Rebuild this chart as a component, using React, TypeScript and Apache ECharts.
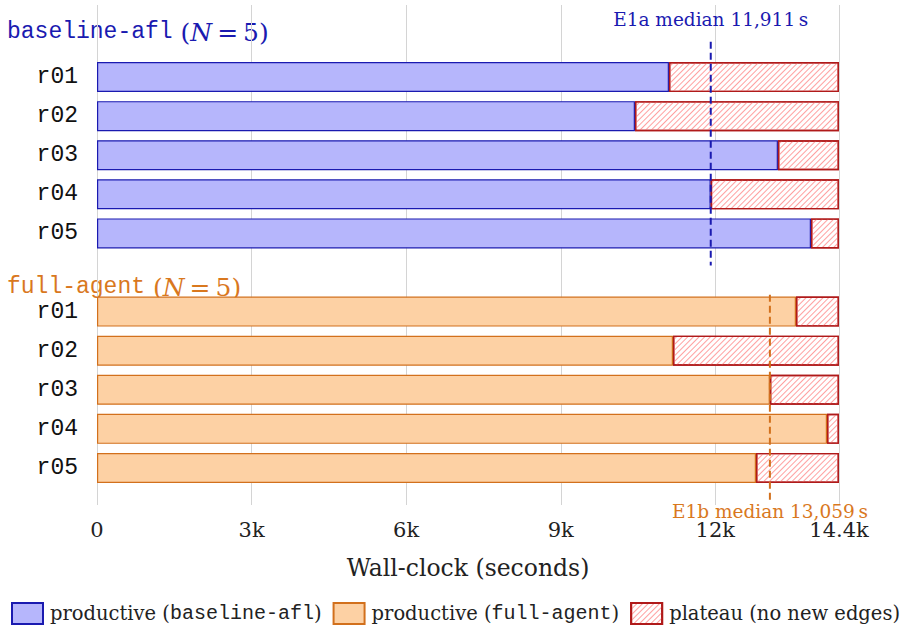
import React, { useEffect, useRef } from 'react';
import * as echarts from 'echarts';

const runs = ['r01', 'r02', 'r03', 'r04', 'r05'];
const baselineProductive = [11100, 10440, 13215, 11911, 13856];
const fullAgentProductive = [13565, 11178, 13059, 14167, 12789];
const wallClock = 14400;
const xTicks = [0, 3000, 6000, 9000, 12000, 14400];
const xTickLabels = ['0', '3k', '6k', '9k', '12k', '14.4k'];
const medians = [11911, 13059];
const medianLabels = ['E1a median 11,911\u2009s', 'E1b median 13,059\u2009s'];
const groupNames = ['baseline-afl', 'full-agent'];
const groupN = [5, 5];
const seriesNames = ['productive (baseline-afl)', 'productive (full-agent)', 'plateau (no new edges)'];

const BLUE = '#1a1ab0';
const BLUE_FILL = '#b6b6fc';
const ORANGE = '#d2701c';
const ORANGE_TEXT = '#d9781e';
const ORANGE_FILL = '#fdd1a4';
const RED = '#b01a1a';
const SERIF = '"DejaVu Serif", "Liberation Serif", serif';
const MONO = '"Liberation Mono", "DejaVu Sans Mono", monospace';

export default function App() {
  const ref = useRef<HTMLDivElement>(null);
  useEffect(() => {
    if (!ref.current) return;
    const chart = echarts.init(ref.current, null, { renderer: 'svg' });
    const cats = [...runs.map((r) => 'b:' + r), 'gap', ...runs.map((r) => 'f:' + r)];
    const nulls = (n: number) => Array(n).fill(null);
    const prodB = [...baselineProductive, ...nulls(6)];
    const prodF = [...nulls(6), ...fullAgentProductive];
    const plateau = [
      ...baselineProductive.map((v) => wallClock - v),
      null,
      ...fullAgentProductive.map((v) => wallClock - v),
    ];
    const legendFmt: Record<string, string> = {
      [seriesNames[0]]: '{s|productive (}{m|baseline-afl}{s|)}',
      [seriesNames[1]]: '{s|productive (}{m|full-agent}{s|)}',
      [seriesNames[2]]: '{s|plateau (no new edges)}',
    };
    const headerRich = (color: string) => ({
      m: { fontFamily: MONO, fontSize: 23, fill: color, color },
      s: { fontFamily: SERIF, fontSize: 25, fill: color, color },
      i: { fontFamily: SERIF, fontSize: 25, fontStyle: 'italic', fill: color, color },
    });
    const option: any = {
      animation: false,
      grid: [
        { left: 97, right: 77, top: 5, bottom: 129 },
        { left: 97, right: 77, top: 57.5, bottom: 146.5 },
      ],
      xAxis: [
        {
          gridIndex: 0,
          type: 'value',
          min: 0,
          max: wallClock,
          axisLine: { show: false },
          axisTick: { show: false, customValues: xTicks },
          splitLine: { show: true, lineStyle: { color: '#d4d4d4', width: 1 } },
          axisLabel: {
            customValues: xTicks,
            formatter: (v: number) => xTickLabels[xTicks.indexOf(v)] ?? '',
            fontFamily: SERIF,
            fontSize: 21,
            color: '#222',
            margin: 14,
            showMaxLabel: true,
          },
          name: 'Wall-clock (seconds)',
          nameLocation: 'middle',
          nameGap: 51,
          nameTextStyle: { fontFamily: SERIF, fontSize: 23.5, color: '#222' },
        },
        {
          gridIndex: 1,
          type: 'value',
          min: 0,
          max: wallClock,
          show: false,
          splitLine: { show: false },
        },
      ],
      yAxis: [
        { gridIndex: 0, type: 'value', show: false, splitLine: { show: false } },
        {
          gridIndex: 1,
          type: 'category',
          inverse: true,
          data: cats,
          axisLine: { show: false },
          axisTick: { show: false },
          splitLine: { show: false },
          axisLabel: {
            formatter: (v: string) => (v === 'gap' ? '' : v.slice(2)),
            fontFamily: MONO,
            fontSize: 23,
            color: '#111',
            margin: 19,
          },
        },
      ],
      legend: {
        bottom: 4,
        left: 6,
        icon: 'rect',
        itemWidth: 31,
        itemHeight: 21,
        itemGap: 11,
        data: seriesNames,
        formatter: (n: string) => legendFmt[n],
        textStyle: {
          padding: [0, 0, 0, 2],
          rich: {
            s: { fontFamily: SERIF, fontSize: 19.5, color: '#222' },
            m: { fontFamily: MONO, fontSize: 20, color: '#222' },
          },
        },
      },
      series: [
        {
          name: seriesNames[0],
          type: 'bar',
          stack: 'wall',
          xAxisIndex: 1,
          yAxisIndex: 1,
          barWidth: 30,
          data: prodB,
          itemStyle: { color: BLUE_FILL, borderColor: BLUE, borderWidth: 1.2 },
        },
        {
          name: seriesNames[1],
          type: 'bar',
          stack: 'wall',
          xAxisIndex: 1,
          yAxisIndex: 1,
          barWidth: 30,
          data: prodF,
          itemStyle: { color: ORANGE_FILL, borderColor: ORANGE, borderWidth: 1.2 },
        },
        {
          name: seriesNames[2],
          type: 'bar',
          stack: 'wall',
          xAxisIndex: 1,
          yAxisIndex: 1,
          barWidth: 30,
          data: plateau,
          itemStyle: {
            color: '#ffffff',
            borderColor: RED,
            borderWidth: 1.4,
            decal: {
              symbol: 'rect',
              symbolSize: 1,
              dashArrayX: [1, 0],
              dashArrayY: [1, 3],
              rotation: -Math.PI / 4,
              color: '#ffa0a0',
            },
          },
        },
        {
          type: 'custom',
          xAxisIndex: 1,
          yAxisIndex: 1,
          z: 10,
          silent: true,
          encode: { x: 0, y: 1 },
          data: [
            [medians[0], 0, 4, 0],
            [medians[1], 6, 10, 1],
          ],
          renderItem: (params: any, api: any) => {
            const x = api.value(0);
            const i0 = api.value(1);
            const i1 = api.value(2);
            const g = api.value(3);
            const p0 = api.coord([x, i0]);
            const p1 = api.coord([x, i1]);
            const band = api.size([0, 1])[1];
            const color = g === 0 ? BLUE : ORANGE;
            const topOff = g === 0 ? 0.9 : 0.43;
            const labelY = g === 0 ? p0[1] - 1.46 * band : p1[1] + 1.12 * band;
            return {
              type: 'group',
              children: [
                {
                  type: 'line',
                  shape: { x1: p0[0], y1: p0[1] - topOff * band, x2: p0[0], y2: p1[1] + 0.82 * band },
                  style: { stroke: color, lineWidth: 2, lineDash: [7, 4] },
                },
                {
                  type: 'text',
                  x: p0[0],
                  y: labelY,
                  style: {
                    text: medianLabels[g],
                    fill: g === 0 ? BLUE : ORANGE_TEXT,
                    font: `18.5px ${SERIF}`,
                    align: 'center',
                    verticalAlign: 'middle',
                  },
                },
              ],
            };
          },
        },
      ],
      graphic: [
        {
          type: 'text',
          x: 7,
          y: 32,
          style: {
            text: `{m|${groupNames[0]}}{s| (}{i|N}{s|\u2009=\u2009${groupN[0]})}`,
            rich: headerRich(BLUE),
            fill: BLUE,
            verticalAlign: 'middle',
          },
        },
        {
          type: 'text',
          x: 7,
          y: 287,
          style: {
            text: `{m|${groupNames[1]}}{s| (}{i|N}{s|\u2009=\u2009${groupN[1]})}`,
            rich: headerRich(ORANGE_TEXT),
            fill: ORANGE_TEXT,
            verticalAlign: 'middle',
          },
        },
      ],
    };
    chart.setOption(option);
    return () => chart.dispose();
  }, []);
  return <div ref={ref} style={{ width: 916, height: 634, position: 'absolute', left: 0, top: 0 }} />;
}
